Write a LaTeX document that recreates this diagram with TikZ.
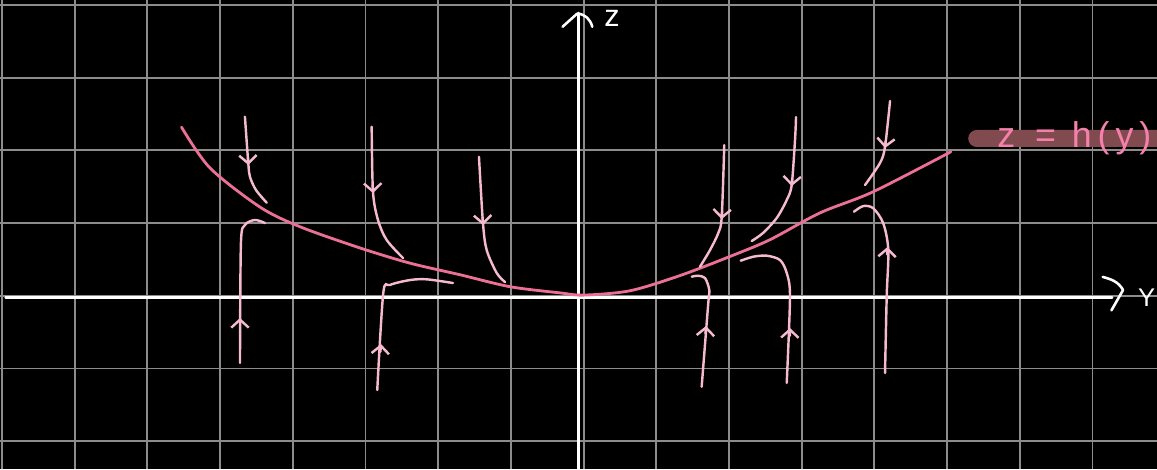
\documentclass[tikz,border=0pt]{standalone}
\usepackage{fontspec}
\setmainfont{Liberation Sans}
\usetikzlibrary{arrows.meta}
\definecolor{curvepink}{RGB}{236,112,150}
\definecolor{labelpink}{RGB}{245,128,172}
\definecolor{flowpink}{RGB}{245,186,208}
\definecolor{pillred}{RGB}{128,74,78}
\definecolor{gridgray}{RGB}{140,140,140}
\begin{document}
\begin{tikzpicture}[
    gridline/.style={gridgray,line width=0.75pt},
    axis/.style={white,line width=1pt,line cap=round,line join=round},
    flow/.style={flowpink,line width=0.95pt,line cap=round},
    chevron/.style={flow,-{Straight Barb[length=1.1mm,width=2.4mm]}}
  ]
        \useasboundingbox (-8.027,-2.382) rectangle (7.887,4.069);
        \fill[black] (-8.027,-2.382) rectangle (7.887,4.069);
        \draw[gridline] (-8.027,-2.382) grid (7.887,4.069);
        % axes
        \draw[axis] (-7.95,-0.02)--(7.27,-0.02);
        \draw[axis] (7.14,0.26) to[out=-15,in=120] (7.42,0.08)--(7.26,-0.20);
        \draw[axis] (-0.07,-2.40)--(-0.07,3.89);
        \draw[axis] (-0.29,3.70)--(-0.09,3.88) to[out=0,in=105] (0.12,3.70);
        \node[white,font=\large] (zlabel) at (0.39,3.82) {z};
        \node[white,anchor=east,inner sep=0.5pt] (ylabel) at (7.887,-0.03) {Y};
        % the curve z = h(y)
        \draw[curvepink,line width=1.1pt,line cap=round] plot[smooth] coordinates {(-5.53,2.32) (-5.14,1.76) (-4.45,1.22) (-3.90,0.95) (-3.08,0.66) (-2.39,0.45) (-1.70,0.29) (-1.01,0.125) (-0.32,0.04) (0,0.01) (0.64,0.07) (1.33,0.28) (2.01,0.54) (2.56,0.77) (3.25,1.14) (3.98,1.43) (5.05,1.98)};
        \fill[pillred,rounded corners=0.117cm] (5.29,2.047) rectangle (8.3,2.281);
        \node[labelpink,font=\fontsize{14}{14}\selectfont] (hlabel) at (6.75,2.17) {z\;\;=\;\,h\,(\,y\,)};
        % flow lines above the curve
        \draw[flow] plot[smooth] coordinates {(-4.658,2.464) (-4.612,1.827) (-4.589,1.638) (-4.506,1.455) (-4.359,1.281)};
        \draw[chevron] (-4.616,1.90)--(-4.612,1.80);
        \draw[flow] plot[smooth] coordinates {(-2.915,2.326) (-2.897,1.432) (-2.828,1.043) (-2.708,0.767) (-2.484,0.520)};
        \draw[chevron] (-2.900,1.52)--(-2.897,1.414);
        \draw[flow] plot[smooth] coordinates {(-1.439,1.913) (-1.384,1.001) (-1.333,0.630) (-1.195,0.314) (-1.081,0.190)};
        \draw[chevron] (-1.388,1.08)--(-1.384,0.974);
        \draw[flow] plot[smooth] coordinates {(1.935,2.074) (1.900,1.088) (1.853,0.864) (1.739,0.630) (1.601,0.400)};
        \draw[chevron] (1.905,1.16)--(1.900,1.056);
        \draw[flow] plot[smooth] coordinates {(2.922,2.459) (2.908,2.143) (2.862,1.524) (2.794,1.318) (2.656,1.070) (2.468,0.864) (2.312,0.754)};
        \draw[chevron] (2.868,1.61)--(2.862,1.51);
        \draw[flow] plot[smooth] coordinates {(4.215,2.680) (4.146,2.051) (4.077,1.827) (3.871,1.524)};
        \draw[chevron] (4.156,2.13)--(4.146,2.033);
        % flow lines below the curve
        \draw[flow] plot[smooth] coordinates {(-4.726,-0.924) (-4.713,0.726) (-4.658,0.974) (-4.520,1.043) (-4.382,1.001)};
        \draw[chevron] (-4.726,-0.41)--(-4.726,-0.305);
        \draw[flow] plot[smooth] coordinates {(-2.838,-1.296) (-2.755,0.039) (-2.663,0.149) (-2.388,0.217) (-2.158,0.227) (-1.796,0.176)};
        \draw[chevron] (-2.795,-0.77)--(-2.787,-0.663);
        \draw[flow] plot[smooth] coordinates {(1.624,-1.250) (1.715,-0.099) (1.729,0.080) (1.670,0.245) (1.574,0.276) (1.487,0.263)};
        \draw[chevron] (1.677,-0.52)--(1.684,-0.415);
        \draw[flow] plot[smooth] coordinates {(2.794,-1.199) (2.839,-0.012) (2.794,0.314) (2.702,0.492) (2.519,0.552) (2.334,0.538) (2.161,0.483)};
        \draw[chevron] (2.837,-0.55)--(2.839,-0.443);
        \draw[flow] plot[smooth] coordinates {(4.146,-1.062) (4.169,-0.012) (4.191,0.630) (4.122,0.997) (3.985,1.204) (3.847,1.235) (3.719,1.157)};
        \draw[chevron] (4.175,0.57)--(4.180,0.671);
    \end{tikzpicture}
\end{document}
